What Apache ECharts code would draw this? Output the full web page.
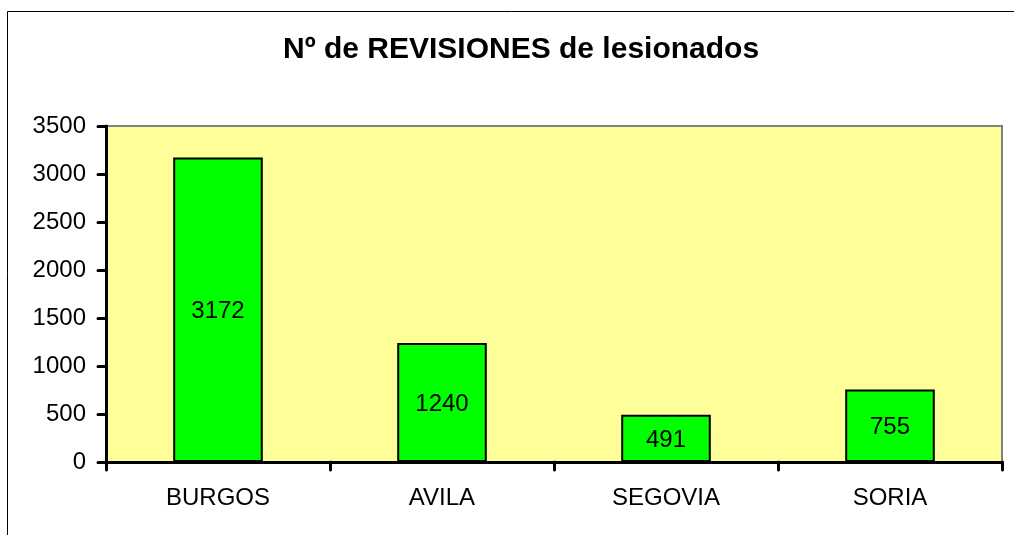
<!DOCTYPE html>
<html>
<head>
<meta charset="utf-8">
<script src="https://cdn.jsdelivr.net/npm/echarts@6/dist/echarts.min.js"></script>
<style>
  html, body { margin: 0; padding: 0; background: #fff; }
  #chart { width: 1014px; height: 535px; }
</style>
</head>
<body>
<div id="chart"></div>
<script>
var provincias = ['BURGOS', 'AVILA', 'SEGOVIA', 'SORIA'];
var revisiones = [3172, 1240, 491, 755];
var yTicks = [0, 500, 1000, 1500, 2000, 2500, 3000, 3500];

var dom = document.getElementById('chart');
var myChart = echarts.init(dom);
var fuente = '"Liberation Sans", Arial, sans-serif';

var option = {
    backgroundColor: '#fff',
    animation: false,
    title: {
        text: 'Nº de REVISIONES de lesionados',
        left: 278,
        top: 30,
        textStyle: {
            fontFamily: fuente,
            fontSize: 30,
            fontWeight: 'bold',
            color: '#000'
        }
    },
    graphic: [{
        type: 'rect',
        shape: { x: 7.5, y: 11.5, width: 1030, height: 560 },
        style: { fill: 'none', stroke: '#000', lineWidth: 1 },
        silent: true
    }],
    grid: {
        left: 106,
        right: 12,
        top: 126,
        bottom: 73,
        show: true,
        backgroundColor: '#FFFF99',
        borderColor: '#808080',
        borderWidth: 2
    },
    xAxis: {
        type: 'category',
        data: provincias,
        axisLine: { lineStyle: { color: '#000', width: 3 } },
        axisTick: { show: true, length: 8, lineStyle: { color: '#000', width: 3, cap: 'round' } },
        axisLabel: {
            color: '#000',
            fontFamily: fuente,
            fontSize: 24,
            margin: 24
        }
    },
    yAxis: {
        type: 'value',
        min: yTicks[0],
        max: yTicks[yTicks.length - 1],
        interval: 500,
        splitLine: { show: false },
        axisLine: { show: true, lineStyle: { color: '#000', width: 3 } },
        axisTick: { show: true, length: 8, lineStyle: { color: '#000', width: 3, cap: 'round' } },
        axisLabel: {
            color: '#000',
            fontFamily: fuente,
            fontSize: 24,
            margin: 20,
            formatter: function (v) { return String(v); }
        }
    },
    series: [{
        type: 'bar',
        data: revisiones,
        barWidth: '40%',
        itemStyle: {
            color: '#00FF00',
            borderColor: '#000',
            borderWidth: 2
        },
        label: {
            show: true,
            position: 'inside',
            color: '#000',
            fontFamily: fuente,
            fontSize: 24,
            offset: [0, 2]
        }
    }]
};

myChart.setOption(option, true);
</script>
</body>
</html>
